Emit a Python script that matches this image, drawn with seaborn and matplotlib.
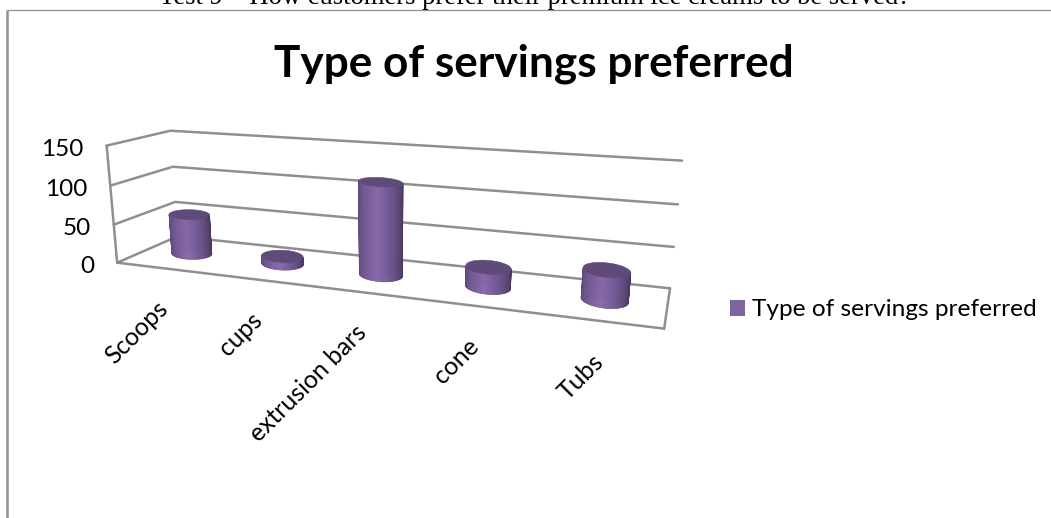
import numpy as np
import matplotlib
matplotlib.use("Agg")
import matplotlib.pyplot as plt
from matplotlib.collections import PolyCollection
from matplotlib.patches import Polygon
from matplotlib.transforms import Transform
import seaborn as sns

categories = ["Scoops", "cups", "extrusion bars", "cone", "Tubs"]
values = [53, 10, 115, 24, 35]
y_ticks = [0, 50, 100, 150]
series_name = "Type of servings preferred"
title = "Type of servings preferred"
caption = "Test 9 \u2013 How customers prefer their premium ice creams to be served?"

W, H = 1051, 518
YMAX = 150.0
N = len(categories)

# calibration of the oblique view: (along, depth, height) -> pixel
calib = [
    (0, 0, 0, 117, 263), (1, 0, 0, 664, 329), (0, 1, 0, 178, 236), (1, 1, 0, 670, 288),
    (0, 0, 1, 107, 145), (0, 1, 1, 170, 131), (1, 1, 1, 682, 161),
    (0, 1, 1/3, 175, 202), (0, 1, 2/3, 173, 167), (1, 1, 1/3, 674, 247), (1, 1, 2/3, 678, 204),
]
rows = []
for s, d, h, X, Y in calib:
    rows.append([s, d, h, 1, 0, 0, 0, 0, -X*s, -X*d, -X*h, -X])
    rows.append([0, 0, 0, 0, s, d, h, 1, -Y*s, -Y*d, -Y*h, -Y])
M = np.linalg.svd(np.array(rows, float))[2][-1].reshape(3, 4)


def proj(cat, depth, val):
    """Category position, depth (0 front, 1 back), value -> pixel."""
    cat, depth, val = np.broadcast_arrays(np.asarray(cat, float), np.asarray(depth, float), np.asarray(val, float))
    p = np.stack([(cat + .5) / N, depth, val / YMAX, np.ones_like(cat)], axis=-1) @ M.T
    return p[..., :2] / p[..., 2:]


class Oblique(Transform):
    input_dims = output_dims = 2
    is_affine = False
    has_inverse = False

    def transform_non_affine(self, values):
        v = np.asarray(values, float)
        return proj(v[:, 0], 0.5, v[:, 1])


sns.set_theme(style="white")
plt.rcParams["font.family"] = ["Lato", "DejaVu Sans"]
TEXT = "#000000"
GRID = "#8f8f8f"
BASE = "#8064A2"
TOP = "#5f4a7a"

fig = plt.figure(figsize=(W / 100, H / 100), dpi=100, facecolor="white")
ax = fig.add_axes([0, 0, 1, 1], zorder=0)
px = fig.add_axes([0, 0, 1, 1], zorder=1)
px.set_xlim(0, W)
px.set_ylim(H, 0)
px.axis("off")
px.patch.set_alpha(0)

sns.barplot(x=categories, y=values, color=BASE, width=0.42, saturation=1,
            label=series_name, ax=ax)
ax.set_xlim(-.5, N - .5)
ax.set_ylim(0, YMAX)
ax.axis("off")

# frame and caption
px.plot([7, W], [10.4, 10.4], color="#8f8f8f", lw=0.9, solid_capstyle="butt", zorder=1)
px.plot([6.8, 6.8], [H, 10], color="#8f8f8f", lw=1.8, solid_capstyle="butt", zorder=1)
px.text(534.5, 4.5, caption, family="Liberation Serif", fontsize=19.2, ha="center",
        va="baseline", color=TEXT, clip_on=False)
px.text(534, 77, title, fontsize=31.8, fontweight="bold", ha="center", va="baseline", color=TEXT)

# walls and floor
glw = 1.8
for v in y_ticks:
    pts = proj([-.5, -.5, N - .5], [0, 1, 1], [v, v, v])
    px.plot(pts[:, 0], pts[:, 1], color=GRID, lw=glw, zorder=2, solid_joinstyle="miter")
pts = proj([-.5, -.5], [0, 0], [0, YMAX])
px.plot(pts[:, 0], pts[:, 1], color=GRID, lw=glw, zorder=2)
pts = proj([-.5, N - .5, N - .5], [0, 0, 1], [0, 0, 0])
px.plot(pts[:, 0], pts[:, 1], color=GRID, lw=glw, zorder=2, solid_joinstyle="miter")

# axis labels
for v in y_ticks:
    x0, y0 = proj(-.5, 0, v)
    px.text(x0 - 23, y0 + 4, str(v), fontsize=17.5, ha="right", va="center", color=TEXT)
for i, c in enumerate(categories):
    x0, y0 = proj(i, 0, 0)
    px.text(x0 - 6, y0 + 29, c, fontsize=17.8, rotation=45, rotation_mode="anchor",
            ha="right", va="top", color=TEXT)

# cylinders built on the seaborn bars
tr = Oblique() + px.transData
c0, c1, c2 = [np.array(matplotlib.colors.to_rgb(h)) for h in ("#5a4678", "#8769ab", "#47375f")]
RD = 0.21


def ring(cx, r, th, val):
    """Rim of a disc: flattened ellipse with a tilt that grows along the axis."""
    mid = proj(cx, 0.5, val)
    full = (proj(cx + r, 0.5, val) - proj(cx - r, 0.5, val))[0] / 2
    ref = (proj((N - 1) / 2 + r, 0.5, val) - proj((N - 1) / 2 - r, 0.5, val))[0] / 2
    hw = ref + 0.5 * (full - ref)
    half = (proj(cx, 0.5 + RD, val) - proj(cx, 0.5 - RD, val))[1] / 2
    tilt = 0.12 * (cx + .5) / N
    c, s = np.cos(th), np.sin(th)
    return np.stack([mid[0] + hw * c, mid[1] + hw * tilt * c + half * s], axis=-1)


for bar in ax.containers[0]:
    r = bar.get_width() / 2
    cx = bar.get_x() + r
    val = bar.get_height()
    bar.set_transform(tr)
    bar.set_clip_on(False)
    bar.set_x(cx - .75 * r)
    bar.set_width(1.5 * r)
    th = np.linspace(np.pi, 2 * np.pi, 61)  # near half of the rim, left to right
    low, high = ring(cx, r, th, 0), ring(cx, r, th, val)
    polys, cols = [], []
    for k in range(60):
        polys.append([low[k], low[k + 1], high[k + 1], high[k]])
        t = (k + .5) / 60
        cols.append(c0 + (c1 - c0) * t / .45 if t < .45 else c1 + (c2 - c1) * (t - .45) / .55)
    px.add_collection(PolyCollection(polys, facecolors=cols, edgecolors=cols, linewidths=.5, zorder=3))
    th = np.linspace(0, 2 * np.pi, 90)
    px.add_patch(Polygon(ring(cx, r, th, val), closed=True, facecolor=TOP, edgecolor=TOP, lw=.4, zorder=4))

# legend
fx, fy = 730 / W, 1 - 310 / H
leg = ax.legend(loc="center left", bbox_to_anchor=(fx, fy), bbox_transform=fig.transFigure,
                frameon=False, fontsize=17.6, handlelength=.61, handleheight=.61, handletextpad=.28,
                borderaxespad=0, borderpad=0, labelcolor=TEXT)
for h in leg.get_patches():
    h.set_linewidth(0)
ax.get_legend().set_zorder(5)

fig.savefig("out.png", dpi=100, facecolor="white")
